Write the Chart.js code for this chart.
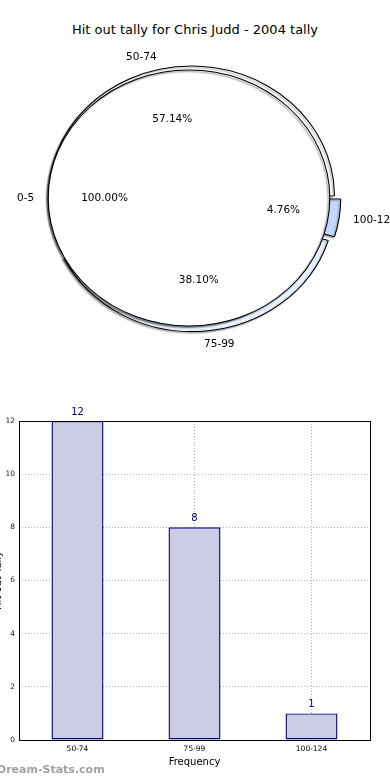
<!DOCTYPE html>
<html>
<head>
<meta charset="utf-8">
<script src="https://cdn.jsdelivr.net/npm/chart.js@4.4.1/dist/chart.umd.min.js"></script>
<style>
  body { margin: 0; background: #fff; }
  #wrap { position: relative; width: 390px; height: 780px; overflow: hidden; }
  canvas { position: absolute; left: 0; }
  #pieA, #pieB { top: 0; }
  #bar { top: 390px; }
  #title { position: absolute; left: 0; width: 390px; top: 22px; text-align: center; font: 13px "DejaVu Sans", sans-serif; color: #000; }
  #mark { position: absolute; left: -3px; top: 763px; font: bold 11px "DejaVu Sans", sans-serif; color: #a0a0a0; }
</style>
</head>
<body>
<div id="wrap">
  <div id="title">Hit out tally for Chris Judd - 2004 tally</div>
  <canvas id="pieA" width="390" height="380"></canvas>
  <canvas id="pieB" width="390" height="380"></canvas>
  <canvas id="bar" width="390" height="390"></canvas>
  <div id="mark">Dream-Stats.com</div>
</div>
<script>
// pie data (matplotlib order: counter-clockwise from east)
const pieLabels = ['50-74', '75-99', '100-124']
const pieValues = [12, 8, 1]
const pieColors = ['#ffffff', '#e9f0fe', '#c6d9fd']
const pieExplode = [8, 17, 17]
const baseLabels = ['0-5']
const baseValues = [1]

// bar data
const barLabels = ['50-74', '75-99', '100-124']
const barValues = [12, 8, 1]
const yMax = 12
const yStep = 2

const SX = 1.1      // pie is a bit wider than tall
const R = 128
const FONT = '"DejaVu Sans", sans-serif'

// Chart.js goes clockwise, so reverse to mimic the counter-clockwise pie
const rev = a => a.slice().reverse()

const stretch = {
	id: 'stretch',
	beforeDatasetsDraw(chart, args, opts) {
		const a = chart.getDatasetMeta(0).data[0]
		const ctx = chart.ctx
		ctx.save()
		ctx.translate(a.x, a.y)
		ctx.scale(SX, 1)
		ctx.translate(-a.x, -a.y)
		ctx.shadowColor = 'rgba(0,0,0,' + opts.shadow + ')'
		ctx.shadowOffsetX = -1.5
		ctx.shadowOffsetY = 1.5
		ctx.shadowBlur = 1.5
	},
	afterDatasetsDraw(chart, args, opts) {
		const ctx = chart.ctx
		if (opts.outline) {
			// outline of the full 100% slice (no radial seam)
			const a = chart.getDatasetMeta(0).data[0]
			ctx.beginPath()
			ctx.arc(a.x, a.y, a.outerRadius, 0, Math.PI * 2)
			ctx.lineWidth = 1
			ctx.strokeStyle = '#000'
			ctx.stroke()
		}
		ctx.restore()
	}
}

function pieOptions(padLeft, outline, shadow) {
	return {
		responsive: false,
		animation: false,
		rotation: 90,
		radius: R,
		layout: { padding: { left: padLeft, right: 12, top: 48, bottom: 32 } },
		plugins: {
			legend: { display: false },
			tooltip: { enabled: false },
			stretch: { outline, shadow }
		}
	}
}

const chartA = new Chart(document.getElementById('pieA'), {
	type: 'pie',
	data: {
		labels: rev(pieLabels),
		datasets: [{
			data: rev(pieValues),
			backgroundColor: rev(pieColors),
			offset: rev(pieExplode),
			borderColor: '#000',
			borderWidth: 1
		}]
	},
	options: pieOptions(6, false, 0.3),
	plugins: [stretch]
})

function drawArcLabels(ctx, chart) {
	const meta = chart.getDatasetMeta(0)
	const ds = chart.data.datasets[0]
	const total = ds.data.reduce((s, v) => s + v, 0)
	meta.data.forEach((el, i) => {
		const circ = el.endAngle - el.startAngle
		const o = (Array.isArray(ds.offset) ? ds.offset[i] : ds.offset) || 0
		const t = o / 4 * (1 + (1 - Math.sin(Math.min(Math.PI, circ))))
		const mid = (el.startAngle + el.endAngle) / 2
		const c = Math.cos(mid), s = Math.sin(mid)
		const d1 = el.outerRadius * 1.1 + t
		ctx.textAlign = c < -0.01 ? 'right' : 'left'
		ctx.fillText(chart.data.labels[i], el.x + c * d1 * SX, el.y + s * d1)
		const d2 = el.outerRadius * 0.6 + t
		ctx.textAlign = 'center'
		ctx.fillText((ds.data[i] / total * 100).toFixed(2) + '%', el.x + c * d2 * SX, el.y + s * d2)
	})
}

const pieText = {
	id: 'pieText',
	afterDraw(chart) {
		const ctx = chart.ctx
		ctx.save()
		ctx.font = '10.5px ' + FONT
		ctx.fillStyle = '#000'
		ctx.textBaseline = 'middle'
		drawArcLabels(ctx, chartA)
		drawArcLabels(ctx, chart)
		ctx.restore()
	}
}

new Chart(document.getElementById('pieB'), {
	type: 'pie',
	data: {
		labels: baseLabels,
		datasets: [{
			data: baseValues,
			backgroundColor: '#ffffff',
			borderWidth: 0
		}]
	},
	options: pieOptions(0, true, 0.45),
	plugins: [stretch, pieText]
})

// bar chart
const frame = {
	id: 'frame',
	afterDraw(chart) {
		const { ctx, chartArea: a } = chart
		ctx.save()
		ctx.strokeStyle = '#000'
		ctx.lineWidth = 1
		ctx.strokeRect(Math.round(a.left) + 0.5, Math.round(a.top) + 0.5, Math.round(a.right - a.left), Math.round(a.bottom - a.top))
		ctx.restore()
	}
}

const barValuesText = {
	id: 'barValuesText',
	afterDatasetsDraw(chart) {
		const ctx = chart.ctx
		const ds = chart.data.datasets[0]
		ctx.save()
		ctx.font = '10px ' + FONT
		ctx.fillStyle = '#000080'
		ctx.textAlign = 'center'
		ctx.textBaseline = 'middle'
		chart.getDatasetMeta(0).data.forEach((el, i) => {
			ctx.fillText(String(ds.data[i]), el.x, el.y - 9)
		})
		ctx.restore()
	}
}

new Chart(document.getElementById('bar'), {
	type: 'bar',
	data: {
		labels: barLabels,
		datasets: [{
			data: barValues,
			backgroundColor: '#ccccE5',
			borderColor: '#000080',
			borderWidth: 1.4,
			borderSkipped: false,
			categoryPercentage: 1,
			barPercentage: 0.444
		}]
	},
	options: {
		responsive: false,
		animation: false,
		layout: { padding: { top: 31, right: 20, left: 0, bottom: 0 } },
		plugins: { legend: { display: false }, tooltip: { enabled: false } },
		scales: {
			x: {
				afterFit: s => { s.height = 40 },
				grid: { offset: false, color: '#b4b4b4', drawTicks: false },
				border: { display: false, dash: [1, 2] },
				ticks: { color: '#000', padding: 5, font: { family: FONT, size: 7.5 } },
				title: {
					display: true, text: 'Frequency', color: '#000',
					font: { family: FONT, size: 10 }, padding: { top: 0, bottom: 12 }
				}
			},
			y: {
				min: 0, max: yMax,
				afterFit: s => { s.width = 19 },
				grid: { color: '#b4b4b4', drawTicks: false },
				border: { display: false, dash: [1, 2] },
				ticks: { stepSize: yStep, color: '#222', padding: 4, font: { family: FONT, size: 7.5 } },
				title: {
					display: true, text: 'Hit out Tally', color: '#000',
					font: { family: FONT, size: 10 }, padding: { top: -8, bottom: 0 }
				}
			}
		}
	},
	plugins: [frame, barValuesText]
})
</script>
</body>
</html>
